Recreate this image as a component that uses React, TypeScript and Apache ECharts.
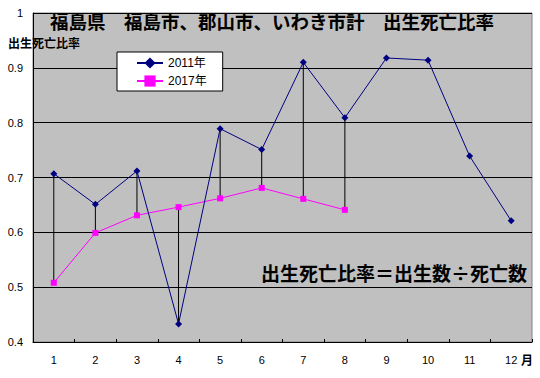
import React, { useEffect, useRef } from "react";
import * as echarts from "echarts";

const months = ["1", "2", "3", "4", "5", "6", "7", "8", "9", "10", "11", "12"];
const ratio2011 = [0.707, 0.651, 0.712, 0.433, 0.789, 0.751, 0.910, 0.809, 0.918, 0.914, 0.739, 0.621];
const ratio2017 = [0.508, 0.599, 0.631, 0.646, 0.662, 0.681, 0.661, 0.641];
const yTicks = { min: 0.4, max: 1.0, interval: 0.1 };
const titleText = "福島県　福島市、郡山市、いわき市計　出生死亡比率";
const yAxisName = "出生死亡比率";
const noteText = "出生死亡比率＝出生数÷死亡数";
const monthUnit = "月";
const seriesNames = ["2011年", "2017年"];

const FONT = "'Liberation Sans', 'Noto Sans CJK JP', sans-serif";
const CJK = "'Noto Sans CJK JP', sans-serif";

export default function App() {
  const ref = useRef<HTMLDivElement>(null);
  useEffect(() => {
    if (!ref.current) return;
    const chart = echarts.init(ref.current, null, { renderer: "svg" });
    const hiLo = ratio2017.map((v, i) => [i, ratio2011[i], v]);
    chart.setOption({
      animation: false,
      backgroundColor: "#ffffff",
      textStyle: { fontFamily: FONT },
      grid: {
        left: 33,
        right: 8,
        top: 13,
        bottom: 36,
        show: true,
        backgroundColor: "#c0c0c0",
        borderColor: "#808080",
        borderWidth: 1,
      },
      legend: {
        orient: "vertical",
        left: 117,
        top: 52,
        backgroundColor: "#ffffff",
        borderColor: "#000000",
        borderWidth: 1,
        borderRadius: 0,
        padding: [5, 16, 4, 19],
        itemWidth: 26,
        itemHeight: 14,
        itemGap: 6,
        textStyle: { fontSize: 12, color: "#000000", fontFamily: FONT },
        data: seriesNames,
      },
      xAxis: {
        type: "category",
        data: months,
        boundaryGap: true,
        axisLine: { lineStyle: { color: "#000000", width: 1 } },
        axisTick: { show: true, inside: true, length: 3, lineStyle: { color: "#000000" } },
        axisLabel: { fontSize: 11, color: "#000000", margin: 12, fontFamily: FONT },
        splitLine: { show: false },
      },
      yAxis: {
        type: "value",
        min: yTicks.min,
        max: yTicks.max,
        interval: yTicks.interval,
        axisLine: { show: true, lineStyle: { color: "#000000", width: 1 } },
        axisTick: { show: false },
        axisLabel: {
          fontSize: 11,
          color: "#000000",
          margin: 10,
          fontFamily: FONT,
          formatter: (v: number) => (Math.abs(v - 1) < 1e-9 ? "1" : v.toFixed(1)),
        },
        splitLine: { show: true, lineStyle: { color: "#000000", width: 1 } },
      },
      graphic: [
        {
          type: "text",
          left: 8,
          top: 36,
          z: 100,
          style: { text: yAxisName, font: `bold 12px ${CJK}`, fill: "#000000" },
        },
        {
          type: "text",
          x: 272,
          y: 21,
          z: 100,
          style: {
            text: titleText,
            font: `bold 18.5px ${CJK}`,
            fill: "#000000",
            align: "center",
            verticalAlign: "middle",
          },
        },
        {
          type: "text",
          x: 527,
          y: 272,
          z: 100,
          style: {
            text: noteText,
            font: `bold 19px ${CJK}`,
            fill: "#000000",
            align: "right",
            verticalAlign: "middle",
          },
        },
        {
          type: "text",
          x: 527,
          y: 359,
          z: 100,
          style: {
            text: monthUnit,
            font: `bold 12px ${CJK}`,
            fill: "#000000",
            align: "center",
            verticalAlign: "middle",
          },
        },
      ],
      series: [
        {
          type: "custom",
          name: "hilo",
          z: 1,
          silent: true,
          data: hiLo,
          renderItem: (params: any, api: any) => {
            const p1 = api.coord([api.value(0), api.value(1)]);
            const p2 = api.coord([api.value(0), api.value(2)]);
            return {
              type: "line",
              shape: { x1: p1[0], y1: p1[1], x2: p2[0], y2: p2[1] },
              style: { stroke: "#000000", lineWidth: 1 },
            };
          },
        },
        {
          type: "line",
          name: seriesNames[0],
          z: 3,
          data: ratio2011,
          symbol: "diamond",
          symbolSize: 7,
          itemStyle: { color: "#000080" },
          lineStyle: { color: "#000080", width: 1 },
        },
        {
          type: "line",
          name: seriesNames[1],
          z: 2,
          data: ratio2017,
          symbol: "rect",
          symbolSize: 6,
          itemStyle: { color: "#ff00ff" },
          lineStyle: { color: "#ff00ff", width: 1 },
        },
      ],
    });
    return () => chart.dispose();
  }, []);
  return <div ref={ref} style={{ width: 540, height: 378, position: "absolute", left: 0, top: 0 }} />;
}
